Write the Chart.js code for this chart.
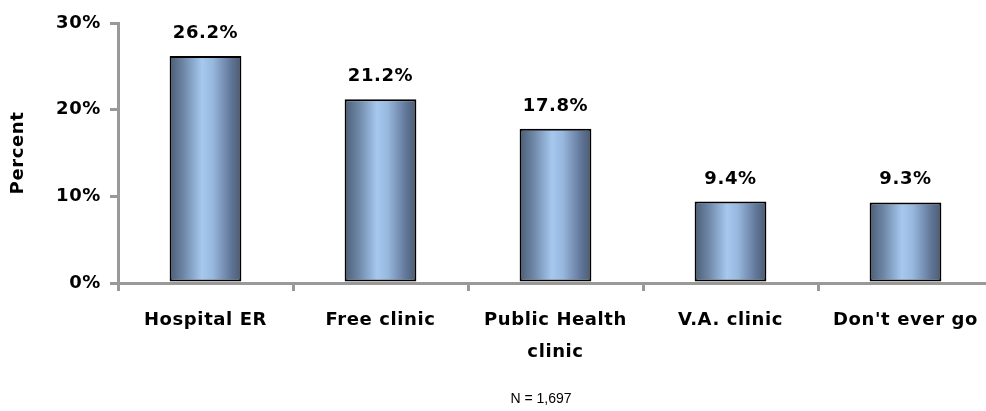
<!DOCTYPE html>
<html>
<head>
<meta charset="utf-8">
<script src="https://cdn.jsdelivr.net/npm/chart.js@4"></script>
<style>
  body { margin: 0; overflow: hidden; background: #fff; }
  #wrap { width: 1000px; height: 411px; }
</style>
</head>
<body>
<div id="wrap"><canvas id="chart" width="1000" height="411"></canvas></div>
<script>
const categories = ["Hospital ER", "Free clinic", ["Public Health", "clinic"], "V.A. clinic", "Don't ever go"];
const percents = [26.2, 21.2, 17.8, 9.4, 9.3];
const yTicks = [0, 10, 20, 30];
const sampleNote = "N = 1,697";

const BAR_PCT = 0.41;
const FONT = "'DejaVu Sans', sans-serif";

// horizontal metallic gradient per bar
function barGradient(c) {
  const chart = c.chart;
  const xs = chart.scales && chart.scales.x;
  if (!xs || c.dataIndex === undefined) return "#8fb0d8";
  const cx = xs.getPixelForValue(c.dataIndex);
  const w = (xs.right - xs.left) / categories.length * BAR_PCT;
  if (!isFinite(cx) || !isFinite(w) || w <= 0) return "#8fb0d8";
  const g = chart.ctx.createLinearGradient(cx - w / 2, 0, cx + w / 2, 0);
  g.addColorStop(0, "#4b5d76");
  g.addColorStop(0.2, "#6f88a8");
  g.addColorStop(0.45, "#a6c8ef");
  g.addColorStop(0.6, "#98b8de");
  g.addColorStop(0.85, "#62789a");
  g.addColorStop(1, "#4a5a72");
  return g;
}

const spacing = {
  id: "spacing",
  beforeInit(chart) { chart.ctx.letterSpacing = "0.6px"; },
  beforeDraw(chart) { chart.ctx.letterSpacing = "0.6px"; }
};

const valueLabels = {
  id: "valueLabels",
  afterDatasetsDraw(chart) {
    const ctx = chart.ctx;
    const meta = chart.getDatasetMeta(0);
    ctx.save();
    ctx.letterSpacing = "0.6px";
    ctx.font = "bold 18px " + FONT;
    ctx.fillStyle = "#000";
    ctx.textAlign = "center";
    ctx.textBaseline = "alphabetic";
    meta.data.forEach((el, i) => {
      ctx.fillText(percents[i].toFixed(1) + "%", el.x, el.y - 18);
    });
    ctx.restore();
  }
};

const note = {
  id: "note",
  afterDraw(chart) {
    const ctx = chart.ctx;
    ctx.save();
    ctx.letterSpacing = "0px";
    ctx.font = "14px 'Liberation Sans', Arial, sans-serif";
    ctx.fillStyle = "#000";
    ctx.textAlign = "center";
    ctx.textBaseline = "middle";
    ctx.fillText(sampleNote, 541, 399);
    ctx.restore();
  }
};

new Chart(document.getElementById("chart"), {
  type: "bar",
  data: {
    labels: categories,
    datasets: [{
      data: percents,
      backgroundColor: barGradient,
      borderColor: "#000",
      borderWidth: 2,
      borderSkipped: false,
      categoryPercentage: 1,
      barPercentage: BAR_PCT
    }]
  },
  options: {
    responsive: false,
    animation: false,
    layout: { padding: { top: 23, right: 7, left: 0, bottom: 0 } },
    plugins: { legend: { display: false }, tooltip: { enabled: false } },
    scales: {
      x: {
        afterFit(s) { s.height = 128; },
        grid: { drawOnChartArea: false, drawTicks: true, tickLength: 8, color: "#999", lineWidth: 3, offset: true },
        border: { display: true, color: "#999", width: 3 },
        ticks: {
          color: "#000",
          font: { family: FONT, size: 18, weight: "bold", lineHeight: 1.8 },
          padding: 13,
          maxRotation: 0,
          autoSkip: false
        }
      },
      y: {
        min: 0,
        max: 30,
        afterFit(s) { s.width = 118; },
        afterBuildTicks(s) { s.ticks = yTicks.map(v => ({ value: v })); },
        grid: { drawOnChartArea: false, drawTicks: true, tickLength: 8, color: "#999", lineWidth: 3 },
        border: { display: true, color: "#999", width: 3 },
        title: {
          display: true,
          text: "Percent",
          color: "#000",
          font: { family: FONT, size: 18, weight: "bold" },
          padding: { top: 8, bottom: 0 }
        },
        ticks: {
          color: "#000",
          font: { family: FONT, size: 18, weight: "bold" },
          padding: 9,
          callback: v => v + "%"
        }
      }
    }
  },
  plugins: [spacing, valueLabels, note]
});
</script>
</body>
</html>
